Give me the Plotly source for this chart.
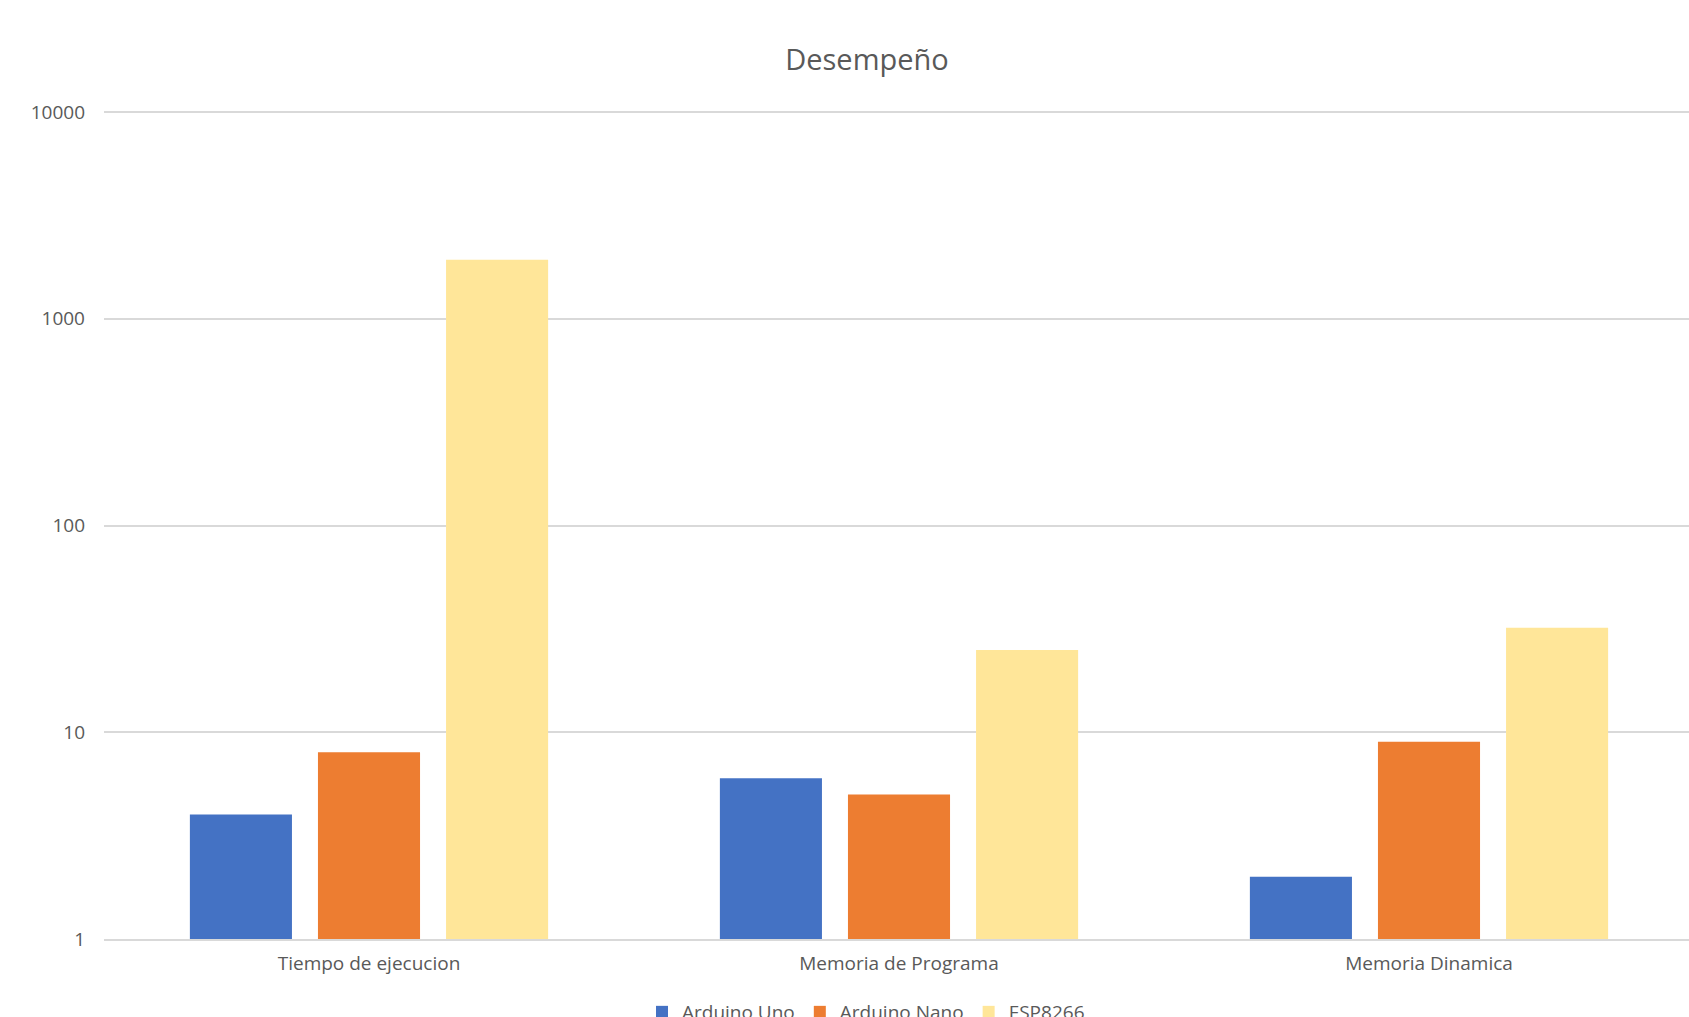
import plotly.graph_objects as go

categories = ["Tiempo de ejecucion", "Memoria de Programa", "Memoria Dinamica"]
arduino_uno = [4, 6, 2]
arduino_nano = [8, 5, 9]
esp8266 = [1930, 25, 32]
series_names = ["Arduino Uno", "Arduino Nano", "ESP8266"]
series_colors = ["#4472C4", "#ED7D31", "#FFE699"]
title_text = "Desempeño"
y_tickvals = [1, 10, 100, 1000, 10000]
y_ticktext = ["1", "10", "100", "1000", "10000"]

FONT = "Open Sans"
GRAY = "#595959"

fig = go.Figure()
for name, vals, col in zip(series_names, [arduino_uno, arduino_nano, esp8266], series_colors):
    fig.add_trace(go.Bar(x=categories, y=vals, name=name, marker_color=col,
                         marker_line_width=0))

W, H = 1689, 1017
fig.update_layout(
    width=W, height=H,
    paper_bgcolor="white", plot_bgcolor="white",
    margin=dict(l=104, r=0, t=110, b=78, autoexpand=False),
    barmode="group", bargap=0.275, bargroupgap=0.203,
    font=dict(family=FONT, color=GRAY, size=19),
    title=dict(text=title_text, x=867 / W, xref="container", xanchor="center",
               y=1 - 60 / H, yref="container", yanchor="middle",
               font=dict(family=FONT, size=29, color=GRAY)),
    showlegend=True,
    legend=dict(orientation="h", xref="container", yref="container",
                x=866 / W, xanchor="center", y=1 - 1012 / H, yanchor="middle",
                font=dict(family=FONT, size=19, color=GRAY),
                itemwidth=30, traceorder="normal", bgcolor="rgba(0,0,0,0)"),
)
fig.update_xaxes(range=[-0.5, -0.5 + 1585 / 530], showgrid=False,
                 showline=True, linecolor="#D9D9D9", linewidth=2,
                 ticks="", tickfont=dict(family=FONT, size=19, color=GRAY),
                 ticklabelstandoff=6, fixedrange=True)
fig.update_yaxes(type="log", range=[0, 4.01], tickvals=y_tickvals, ticktext=y_ticktext,
                 showgrid=True, gridcolor="#D9D9D9", gridwidth=2,
                 zeroline=False, showline=False, ticks="",
                 tickfont=dict(family=FONT, size=19, color=GRAY),
                 ticklabelstandoff=18, fixedrange=True)

fig.write_html("out.html")
